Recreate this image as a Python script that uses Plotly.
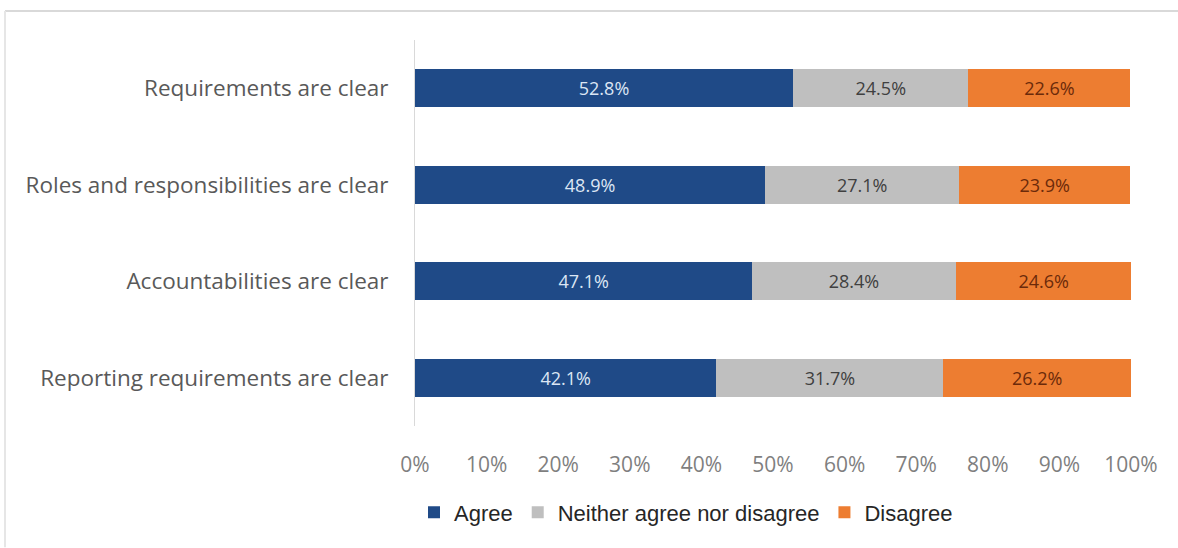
import plotly.graph_objects as go

categories = ["Requirements are clear", "Roles and responsibilities are clear",
              "Accountabilities are clear", "Reporting requirements are clear"]
agree = [52.8, 48.9, 47.1, 42.1]
neither = [24.5, 27.1, 28.4, 31.7]
disagree = [22.6, 23.9, 24.6, 26.2]
x_ticks = [0, 10, 20, 30, 40, 50, 60, 70, 80, 90, 100]

W, H = 1178, 548
L, R, T, B = 415, 47, 40, 121.5
pw, ph = W - L - R, H - T - B

series = [
    ("Agree", agree, "#1F4A87", "#DCE6F4"),
    ("Neither agree nor disagree", neither, "#BFBFBF", "#404040"),
    ("Disagree", disagree, "#ED7D31", "#6B2A0A"),
]

fig = go.Figure()
for name, vals, color, tcolor in series:
    fig.add_trace(go.Bar(
        y=categories, x=vals, name=name, orientation="h",
        marker=dict(color=color, line=dict(width=0)),
        text=[f"{v:.1f}%" for v in vals], textposition="inside",
        insidetextanchor="middle",
        textfont=dict(family="Open Sans", size=18, color=tcolor),
        width=0.39,
    ))

fig.update_layout(
    barmode="stack",
    width=W, height=H,
    margin=dict(l=L, r=R, t=T, b=B),
    paper_bgcolor="white", plot_bgcolor="white",
    font=dict(family="Open Sans", color="#595959"),
    xaxis=dict(range=[0, 100], tickvals=x_ticks, ticktext=[f"{t}%" for t in x_ticks],
               showgrid=False, zeroline=False, showline=False,
               tickfont=dict(size=21, color="#7F7F7F"), ticklabelstandoff=24),
    yaxis=dict(autorange="reversed", showgrid=False, showline=True,
               linecolor="#D9D9D9", linewidth=1,
               tickfont=dict(size=22.5, color="#595959"), ticklabelstandoff=21),
    legend=dict(orientation="h", x=(686 - L) / pw, xanchor="center",
                y=(H - B - 513) / ph, yanchor="middle",
                font=dict(family="Liberation Sans", size=22, color="#262626"),
                itemwidth=30, traceorder="normal"),
    showlegend=True,
)

# light chart border (top and left)
fig.add_shape(type="line", xref="paper", yref="paper",
              x0=(5 - L) / pw, x1=(W - L) / pw + 0.01,
              y0=(H - B - 11) / ph, y1=(H - B - 11) / ph,
              line=dict(color="#D9D9D9", width=2))
fig.add_shape(type="line", xref="paper", yref="paper",
              x0=(5 - L) / pw, x1=(5 - L) / pw,
              y0=(H - B - 11) / ph, y1=(H - B - H) / ph,
              line=dict(color="#E6E6E6", width=2))

fig.write_html("out.html", config={"displayModeBar": False},
               post_script="document.body.style.margin='0';")
